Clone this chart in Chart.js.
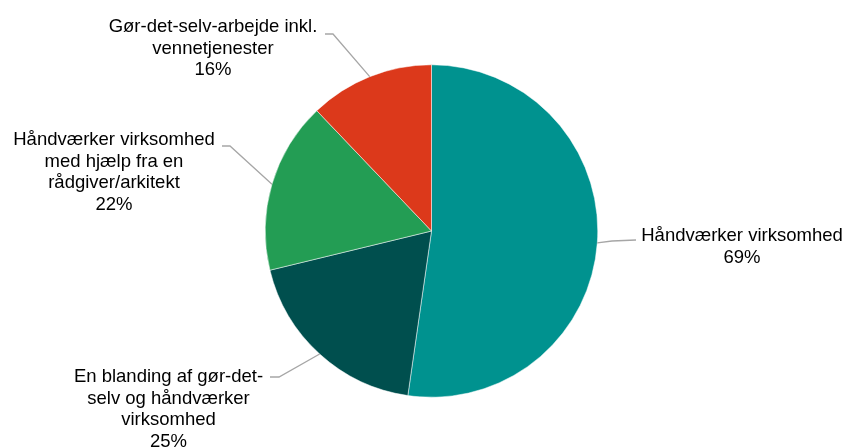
<!DOCTYPE html>
<html>
<head>
<meta charset="utf-8">
<script src="https://cdn.jsdelivr.net/npm/chart.js@4"></script>
<style>
  html, body { margin: 0; padding: 0; background: #fff; }
  #chart { display: block; }
</style>
</head>
<body>
<canvas id="chart" width="846" height="448"></canvas>
<script>
// Data
const kategorier = [
  ["Håndværker virksomhed"],
  ["En blanding af gør-det-", "selv og håndværker", "virksomhed"],
  ["Håndværker virksomhed", "med hjælp fra en", "rådgiver/arkitekt"],
  ["Gør-det-selv-arbejde inkl.", "vennetjenester"]
];
const procenter = [69, 25, 22, 16];
const farver = ["#00928F", "#004F4E", "#239D54", "#DC391B"];

// Placering af labels (tekstcentrum, første linje) og knæk på linjen
const labelPlacering = [
  { x: 742, y: 236, knaek: [612, 241], slut: [636, 240] },
  { x: 168.5, y: 377, knaek: [279, 377], slut: [270, 377] },
  { x: 114, y: 140, knaek: [230, 146], slut: [222, 146] },
  { x: 213, y: 27, knaek: [333, 34], slut: [325, 34] }
];

const chartCanvas = document.querySelector("#chart");

// Plugin der tegner labels med hjælpelinjer
const labelPlugin = {
  id: "pieLabels",
  afterDatasetsDraw(chart) {
    const ctx = chart.ctx;
    const arcs = chart.getDatasetMeta(0).data;
    ctx.save();
    arcs.forEach((arc, i) => {
      const p = arc.getProps(["x", "y", "startAngle", "endAngle", "outerRadius"], true);
      const mid = (p.startAngle + p.endAngle) / 2;
      const sx = p.x + Math.cos(mid) * p.outerRadius;
      const sy = p.y + Math.sin(mid) * p.outerRadius;
      const pl = labelPlacering[i];

      ctx.strokeStyle = "#A6A6A6";
      ctx.lineWidth = 1.3;
      ctx.beginPath();
      ctx.moveTo(sx, sy);
      ctx.lineTo(pl.knaek[0], pl.knaek[1]);
      ctx.lineTo(pl.slut[0], pl.slut[1]);
      ctx.stroke();

      const linjer = kategorier[i].concat([procenter[i] + "%"]);
      ctx.fillStyle = "#000";
      ctx.font = '18.5px "Liberation Sans", Arial, sans-serif';
      ctx.textAlign = "center";
      ctx.textBaseline = "middle";
      linjer.forEach((linje, j) => {
        ctx.fillText(linje, pl.x, pl.y + j * 21.6);
      });
    });
    ctx.restore();
  }
};

const chart = new Chart(chartCanvas.getContext("2d"), {
  type: "pie",
  data: {
    labels: kategorier,
    datasets: [
      {
        data: procenter,
        backgroundColor: farver,
        borderColor: "#ffffff",
        borderWidth: 0.5
      }
    ]
  },
  options: {
    responsive: false,
    animation: false,
    layout: {
      padding: { top: 64.5, bottom: 50.5, left: 265, right: 248 }
    },
    plugins: {
      legend: { display: false },
      tooltip: { enabled: false }
    }
  },
  plugins: [labelPlugin]
});
</script>
</body>
</html>
